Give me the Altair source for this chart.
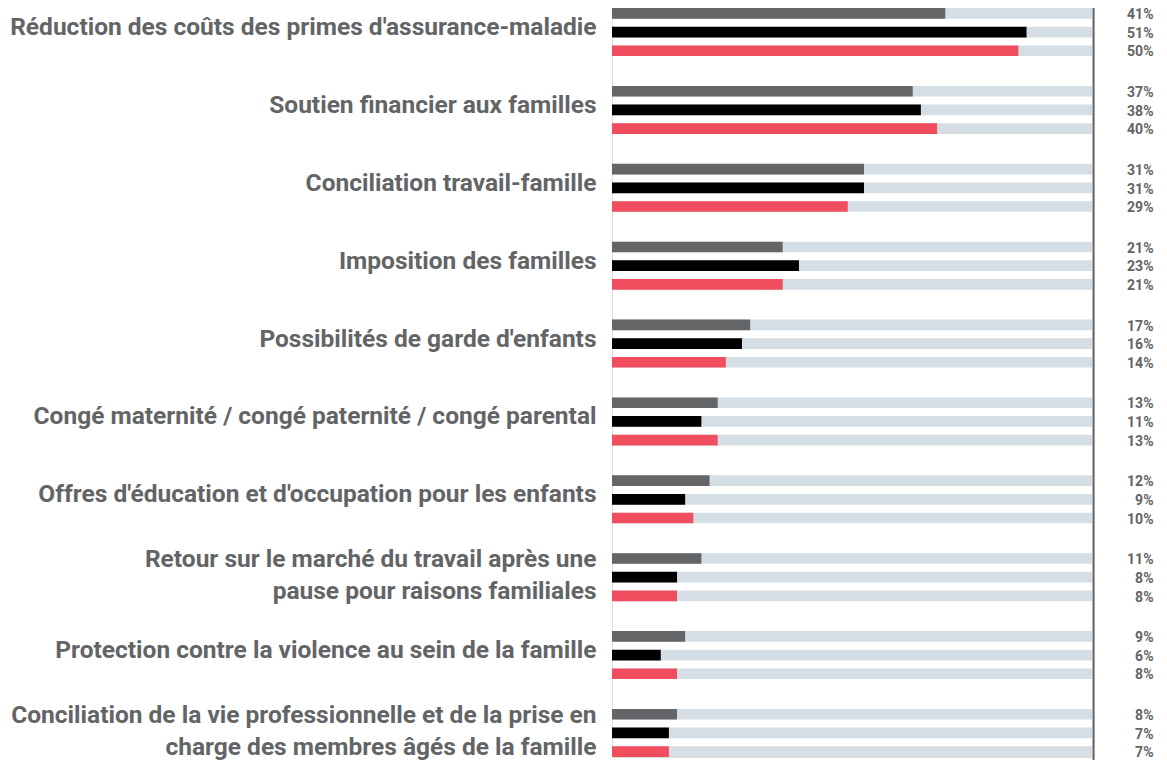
import altair as alt
import pandas as pd

categories = [
    "Réduction des coûts des primes d'assurance-maladie",
    "Soutien financier aux familles",
    "Conciliation travail-famille",
    "Imposition des familles",
    "Possibilités de garde d'enfants",
    "Congé maternité / congé paternité / congé parental",
    "Offres d'éducation et d'occupation pour les enfants",
    "Retour sur le marché du travail après une|pause pour raisons familiales",
    "Protection contre la violence au sein de la famille",
    "Conciliation de la vie professionnelle et de la prise en|charge des membres âgés de la famille",
]
series_names = ["Série 1", "Série 2", "Série 3"]
series_colors = ["#646567", "#000000", "#F04E5E"]
values_s1 = [41, 37, 31, 21, 17, 13, 12, 11, 9, 8]
values_s2 = [51, 38, 31, 23, 16, 11, 9, 8, 6, 7]
values_s3 = [50, 40, 29, 21, 14, 13, 10, 8, 8, 7]

rows = []
for i, cat in enumerate(categories):
    for s, vals in zip(series_names, [values_s1, values_s2, values_s3]):
        rows.append({"category": cat, "series": s, "value": vals[i], "label": f"{vals[i]}%"})
df = pd.DataFrame(rows)

W = 482
H = 749
TEXT_COLOR = "#636466"

y_enc = alt.Y(
    "category:N",
    sort=categories,
    scale=alt.Scale(paddingInner=0.3825, paddingOuter=0),
    axis=alt.Axis(
        title=None,
        ticks=False,
        tickSize=0,
        domain=False,
        labelPadding=16,
        labelFont="Roboto",
        labelFontSize=24.5,
        labelFontWeight="bold",
        labelColor=TEXT_COLOR,
        labelLineHeight=32,
        labelLimit=0,
        labelOffset={"condition": {"test": "indexof(datum.value, '|') >= 0", "value": -17}, "value": -4},
        labelExpr="split(datum.label, '|')",
    ),
)
yoff_enc = alt.YOffset(
    "series:N",
    sort=series_names,
    scale=alt.Scale(paddingInner=0.428, paddingOuter=0),
)

base = alt.Chart(df)

bg = base.mark_bar(color="#D6DEE5").encode(
    y=y_enc,
    yOffset=yoff_enc,
    x=alt.value(0),
    x2=alt.value(480),
)

bars = base.mark_bar().encode(
    y=y_enc,
    yOffset=yoff_enc,
    x=alt.X("value:Q", scale=alt.Scale(domain=[0, 59.3]), axis=None),
    color=alt.Color("series:N", sort=series_names,
                    scale=alt.Scale(domain=series_names, range=series_colors), legend=None),
)

text = base.mark_text(
    align="right", baseline="middle", dy=1.7, font="Roboto", fontSize=14,
    fontWeight="bold", color=TEXT_COLOR,
).encode(
    y=y_enc,
    yOffset=yoff_enc,
    x=alt.value(541.5),
    text="label:N",
)

rule = alt.Chart(pd.DataFrame({"v": [0]})).mark_rule(color="#666666", strokeWidth=2).encode(
    x=alt.value(481.5),
    y=alt.value(0),
    y2=alt.value(H + 3),
)

chart = alt.layer(bg, bars, text, rule).properties(
    width=W,
    height=H,
    autosize=alt.AutoSizeParams(type="none"),
    padding={"left": 604, "top": 0, "right": 62, "bottom": 3},
).configure_view(stroke=None).configure(background="white")

chart.save("out.html", embed_options={"renderer": "svg", "actions": False})
